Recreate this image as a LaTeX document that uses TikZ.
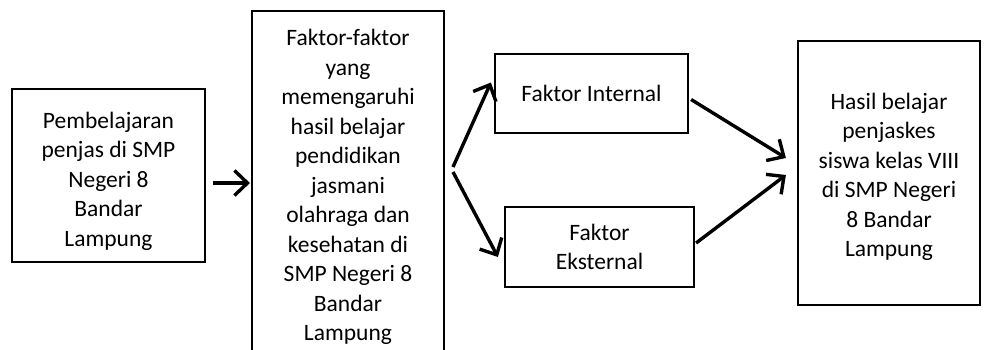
\documentclass[tikz,border=0pt]{standalone}
\usepackage{fontspec}
\setmainfont{Carlito}
\usetikzlibrary{arrows.meta}

\begin{document}
\begin{tikzpicture}[x=1pt,y=1pt,
    box/.style={draw,line width=2.2pt,align=center,inner sep=0pt,
      font=\fontsize{23.5}{29.5}\selectfont},
    arr/.style={line width=3.4pt,-{Straight Barb[length=13pt,width=25pt,line width=3.4pt]}}]

        \useasboundingbox (0,0) rectangle (984,350);

        \node[box,minimum width=193pt,minimum height=173pt] (pemb) at (108.5,174.5)
          {\rule{0pt}{28pt}Pembelajaran\\penjas di SMP\\Negeri 8\\Bandar\\Lampung};
        \node[box,minimum width=192pt,minimum height=352pt] (faktor) at (348,163)
          {Faktor-faktor\\yang\\memengaruhi\\hasil belajar\\pendidikan\\jasmani\\olahraga dan\\kesehatan di\\SMP Negeri 8\\Bandar\\Lampung};
        \node[box,minimum width=193pt,minimum height=79pt] (int) at (591.5,256.5)
          {Faktor Internal};
        \node[box,minimum width=189pt,minimum height=80pt] (eks) at (599.5,103)
          {Faktor\\Eksternal};
        \node[box,minimum width=182pt,minimum height=264pt] (hasil) at (889,177)
          {\rule{0pt}{24pt}Hasil belajar\\penjaskes\\siswa kelas VIII\\di SMP Negeri\\8 Bandar\\Lampung};

        \coordinate (split) at (453,180);

        \draw[arr,shorten <=7pt,shorten >=1pt] ([yshift=4pt]pemb.east |- faktor.west) -- ([yshift=4pt]faktor.west);
        \draw[arr] ([yshift=3pt]split) -- ([xshift=-3pt,yshift=11pt]int.west);
        \draw[arr] ([yshift=-2pt]split) -- ([xshift=-6pt,yshift=-10pt]eks.west);
        \draw[arr] ([xshift=2pt,yshift=-6pt]int.east) -- ([xshift=-11pt,yshift=15pt]hasil.west);
        \draw[arr] ([xshift=1pt,yshift=4pt]eks.east) -- ([xshift=-11pt,yshift=-2pt]hasil.west);
      \end{tikzpicture}
\end{document}
